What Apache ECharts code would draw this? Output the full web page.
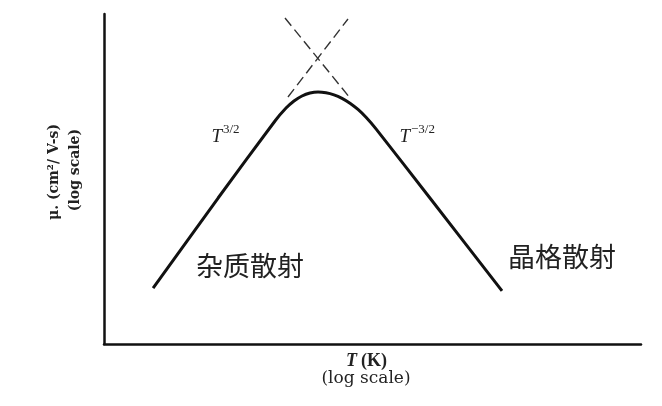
<!DOCTYPE html>
<html>
<head>
<meta charset="utf-8">
<script src="https://cdn.jsdelivr.net/npm/echarts@6/dist/echarts.min.js"></script>
<style>html,body{margin:0;padding:0;background:#fff}#c{width:662px;height:406px}</style>
</head>
<body>
<div id="c"></div>
<script>
// Temperature T (K) and mobility mu (arbitrary units), both on log scale
const curveT  = [18.8, 43.4, 90.2, 104.0, 115.2, 127.7, 141.5, 156.9, 173.9, 192.7, 213.6, 236.7, 262.4, 290.9, 330.8, 662, 1673];
const curveMu = [21.8, 76.7, 224.6, 269, 297, 318.5, 332, 337, 333.4, 323.8, 308.3, 288, 263.8, 236.5, 201.2, 76.7, 21.0];
// asymptote extensions (dashed)
const impurityT  = [106.6, 230.7];
const impurityMu = [314, 933];
const latticeT   = [102.6, 236.7];
const latticeMu  = [946, 310];

const pairs = (xs, ys) => xs.map((x, i) => [x, ys[i]]);

const chart = echarts.init(document.getElementById('c'), null, {renderer: 'canvas'});
const serif = '"Liberation Serif", "DejaVu Serif", serif';
const wide = '"DejaVu Serif", serif';
const cjk = '"Noto Sans CJK SC", sans-serif';
chart.setOption({
  animation: false,
  backgroundColor: '#fff',
  grid: {left: 104, right: 21, top: 14, bottom: 62},
  xAxis: {
    type: 'log', logBase: 10, min: 10, max: 10000,
    axisLine: {show: true, lineStyle: {color: '#111', width: 2.5}},
    axisTick: {show: false}, axisLabel: {show: false}, splitLine: {show: false}
  },
  yAxis: {
    type: 'log', logBase: 10, min: 10, max: 1000,
    axisLine: {show: true, lineStyle: {color: '#111', width: 2.5}},
    axisTick: {show: false}, axisLabel: {show: false}, splitLine: {show: false}
  },
  series: [
    {type: 'line', data: pairs(curveT, curveMu), smooth: 0.2, symbol: 'none',
     lineStyle: {color: '#111', width: 3}},
    {type: 'line', data: pairs(impurityT, impurityMu), symbol: 'none',
     lineStyle: {color: '#333', width: 1.4, type: [10, 5]}},
    {type: 'line', data: pairs(latticeT, latticeMu), symbol: 'none',
     lineStyle: {color: '#333', width: 1.4, type: [10, 5]}}
  ],
  graphic: [
    {type: 'text', x: 357, y: 361, style: {text: 'T', font: 'italic bold 18px ' + serif, fill: '#222', align: 'right', verticalAlign: 'middle'}},
    {type: 'text', x: 361, y: 361, style: {text: '(K)', font: 'bold 18px ' + serif, fill: '#222', align: 'left', verticalAlign: 'middle'}},
    {type: 'text', x: 366, y: 379, style: {text: '(log scale)', font: '17px ' + wide, fill: '#222', align: 'center', verticalAlign: 'middle'}},
    {type: 'text', x: 54, y: 172, rotation: Math.PI / 2, style: {text: 'μ. (cm²/ V-s)', font: 'bold 14px ' + wide, fill: '#222', align: 'center', verticalAlign: 'middle'}},
    {type: 'text', x: 75, y: 170, rotation: Math.PI / 2, style: {text: '(log scale)', font: 'bold 14px ' + wide, fill: '#222', align: 'center', verticalAlign: 'middle'}},
    {type: 'text', x: 222, y: 137, style: {text: 'T', font: 'italic 19px ' + serif, fill: '#222', align: 'right', verticalAlign: 'middle'}},
    {type: 'text', x: 223, y: 130, style: {text: '3/2', font: '13px ' + serif, fill: '#222', align: 'left', verticalAlign: 'middle'}},
    {type: 'text', x: 410, y: 137, style: {text: 'T', font: 'italic 19px ' + serif, fill: '#222', align: 'right', verticalAlign: 'middle'}},
    {type: 'text', x: 411, y: 130, style: {text: '−3/2', font: '13px ' + serif, fill: '#222', align: 'left', verticalAlign: 'middle'}},
    {type: 'text', x: 250, y: 266, style: {text: '杂质散射', font: '27px ' + cjk, fill: '#222', align: 'center', verticalAlign: 'middle'}},
    {type: 'text', x: 562, y: 257, style: {text: '晶格散射', font: '27px ' + cjk, fill: '#222', align: 'center', verticalAlign: 'middle'}}
  ]
});
</script>
</body>
</html>
